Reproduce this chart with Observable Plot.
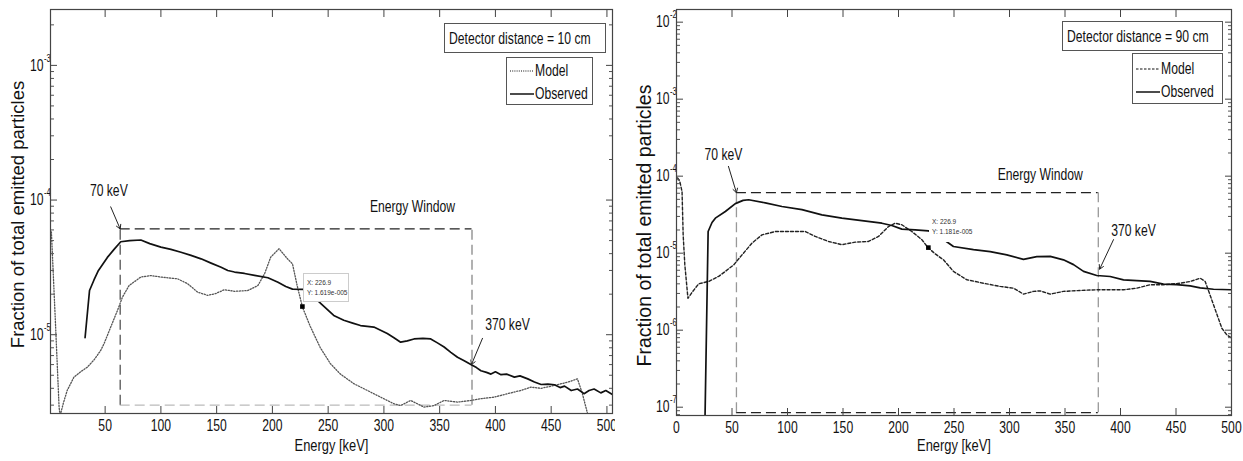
<!DOCTYPE html>
<html><head><meta charset="utf-8">
<script src="https://cdn.jsdelivr.net/npm/d3@7"></script>
<script src="https://cdn.jsdelivr.net/npm/@observablehq/plot@0.6"></script>
<style>
html,body{margin:0;padding:0;background:#fff;}
body{width:1243px;height:461px;overflow:hidden;position:relative;font-family:"Liberation Sans",Arial,sans-serif;color:#111;}
.panel{position:absolute;top:0;}
.box{position:absolute;border:1px solid #555;background:#fff;font-size:16px;box-sizing:border-box;}
.row{position:absolute;white-space:nowrap;transform:translateY(-50%) scaleX(0.76);transform-origin:left center;line-height:1;}
.tip{position:absolute;background:#fff;font-family:"Liberation Sans",sans-serif;font-size:6.5px;line-height:10px;color:#333;box-sizing:border-box;padding-left:3px;white-space:nowrap;}
</style>
</head><body>
<div id="left" class="panel" style="left:0"></div>
<div id="right" class="panel" style="left:615px"></div>
<script>
// ---- tick labels / axes data ----
const energyTicksLeft = [50,100,150,200,250,300,350,400,450,500];
const energyTicksRight = [0,50,100,150,200,250,300,350,400,450,500];
const decadesLeft = [1e-5,1e-4,1e-3];
const decadesRight = [1e-7,1e-6,1e-5,1e-4,1e-3,1e-2];

// ---- left panel (detector distance = 10 cm) ----
const leftModelEnergy = [1.8,5.3,8.7,9.6,12.5,16,22,28,34,40,46,49,55,61,65.5,71.5,82,91,100,115,124,133,142,149,157,166,178,187,193,198.5,206,213.5,218,222.5,227,234,243,252,261,273,285,297,309,315,324,330,336,345,354,366,378,387,399,411,423,432,441,453,465,473.6,478,482.6,484.5];
const leftModelValue  = [5.8e-5,1.3e-5,2.9e-6,2.5e-6,3.1e-6,3.86e-6,4.84e-6,5.3e-6,5.74e-6,6.5e-6,7.64e-6,8.57e-6,1.14e-5,1.51e-5,1.9e-5,2.32e-5,2.68e-5,2.75e-5,2.68e-5,2.6e-5,2.39e-5,2.07e-5,1.96e-5,2.02e-5,2.16e-5,2.1e-5,2.13e-5,2.32e-5,2.84e-5,3.77e-5,4.35e-5,3.66e-5,3.36e-5,2.26e-5,1.6e-5,1.15e-5,8.0e-6,6.1e-6,5.1e-6,4.33e-6,3.86e-6,3.44e-6,3.07e-6,2.98e-6,3.25e-6,3.07e-6,2.9e-6,2.98e-6,3.25e-6,3.16e-6,3.25e-6,3.35e-6,3.44e-6,3.65e-6,3.86e-6,4.08e-6,4.0e-6,4.2e-6,4.45e-6,4.7e-6,3.65e-6,2.6e-6,2.3e-6];
const leftObservedEnergy = [32,36,40,44,52,58,64,72,82,90,100,109,118,127,136,145,154,160,166,175,184,196,205,212,218,228,236,243.5,255,264,272,279,291,297,303,309,315,321,327,335,342,348,354,360,366,372,378,383,387,392,396,400,405,410,417,422,429,435,441,447,453,458,462,468,473.6,479.5,484,488.5,494.5,499,505];
const leftObservedValue  = [9.5e-6,2.13e-5,2.55e-5,3.0e-5,3.75e-5,4.3e-5,4.9e-5,5.0e-5,5.05e-5,4.75e-5,4.47e-5,4.3e-5,4.1e-5,3.88e-5,3.66e-5,3.4e-5,3.17e-5,3.0e-5,2.92e-5,2.85e-5,2.76e-5,2.65e-5,2.45e-5,2.28e-5,2.18e-5,2.17e-5,1.95e-5,1.7e-5,1.39e-5,1.28e-5,1.22e-5,1.17e-5,1.14e-5,1.08e-5,1.02e-5,9.5e-6,8.8e-6,9.0e-6,9.3e-6,9.4e-6,9.3e-6,8.7e-6,8.1e-6,7.4e-6,6.8e-6,6.4e-6,6.0e-6,5.7e-6,5.4e-6,5.25e-6,5.1e-6,5.3e-6,5.05e-6,5.1e-6,4.84e-6,4.95e-6,4.7e-6,4.45e-6,4.27e-6,4.3e-6,4.25e-6,4.05e-6,4.15e-6,3.85e-6,3.95e-6,3.65e-6,3.85e-6,3.95e-6,3.7e-6,3.85e-6,3.6e-6];
const leftWindowEnergy = [63.5, 379];
const leftWindowLevel = [3.0e-6, 6.1e-5];
const leftTip = [226.9, 1.619e-5];

// ---- right panel (detector distance = 90 cm) ----
const rightModelEnergy = [1,3,5,6,7.5,10.3,14,20,29,38,44,51.6,59,68,77,89,101,116,125,137,149,161,173,182,191,197,203,212,221,226.4,233,240.5,249.5,261.5,276.6,291.6,303.6,312.6,321.6,327.6,336.6,348.6,363.7,378.7,390.7,402.7,414.7,426.7,438.7,453.8,462.8,471.8,476.3,483.8,491.3,495.8,500];
const rightModelValue  = [9.5e-5,8.5e-5,6.3e-5,1.73e-5,7.1e-6,2.6e-6,3.1e-6,4.0e-6,4.3e-6,5.0e-6,5.8e-6,7.06e-6,9.5e-6,1.35e-5,1.73e-5,1.91e-5,1.91e-5,1.91e-5,1.65e-5,1.42e-5,1.29e-5,1.39e-5,1.42e-5,1.65e-5,2.22e-5,2.45e-5,2.34e-5,1.91e-5,1.5e-5,1.19e-5,9.8e-6,8.2e-6,5.8e-6,4.52e-6,4.07e-6,3.7e-6,3.51e-6,2.94e-6,3.19e-6,3.24e-6,2.94e-6,3.19e-6,3.28e-6,3.35e-6,3.35e-6,3.35e-6,3.51e-6,3.89e-6,3.89e-6,4.07e-6,4.29e-6,4.73e-6,4.29e-6,2.14e-6,1.06e-6,8.7e-7,7.9e-7];
const rightObservedEnergy = [25.5,28.5,32,35,44,53,60,65,80,95,113,131,149,167,185,194,203,215,227,233,249.5,267.6,282.6,297.6,312.6,324.6,336.7,348.6,357.7,366.7,378.6,390.7,402.7,414.7,426.7,438.7,450.7,462.8,471.8,483.8,500];
const rightObservedValue  = [5e-8,1.91e-5,2.5e-5,2.85e-5,3.48e-5,4.4e-5,4.85e-5,4.94e-5,4.5e-5,4.04e-5,3.67e-5,3.15e-5,2.85e-5,2.64e-5,2.45e-5,2.29e-5,2.05e-5,2.01e-5,1.95e-5,1.8e-5,1.22e-5,1.11e-5,1.05e-5,9.5e-6,8.3e-6,9.0e-6,9.1e-6,8.2e-6,7.1e-6,5.8e-6,5.13e-6,4.98e-6,4.5e-6,4.4e-6,4.3e-6,3.96e-6,3.9e-6,3.77e-6,3.55e-6,3.4e-6,3.35e-6];
const rightWindowEnergy = [54, 380];
const rightWindowLevel = [8.5e-8, 6.1e-5];
const rightTip = [226.9, 1.181e-5];

const FONT = '"Liberation Sans",Arial,sans-serif';
const SQUEEZE = 0.76;
const zip = (e, v) => e.map((x, i) => ({e: x, v: v[i]}));

function minorTicks(decades, domain) {
  const out = [];
  for (const d of [decades[0] / 10, ...decades])
    for (let k = 2; k <= 9; k++) { const t = k * d; if (t > domain[0] && t < domain[1]) out.push(t); }
  return out;
}

function panel(cfg) {
  const win = cfg.winE, lev = cfg.winV;
  const dash = "10,5";
  const marks = [
    Plot.ruleY([lev[1]], {x1: win[0], x2: win[1], stroke: "#222", strokeWidth: 1.3, strokeDasharray: dash}),
    Plot.ruleY([lev[0]], {x1: win[0], x2: win[1], stroke: cfg.bottomColor, strokeWidth: 1.3, strokeDasharray: dash}),
    Plot.ruleX([win[0]], {y1: lev[0], y2: lev[1], stroke: cfg.leftColor, strokeWidth: 1.3, strokeDasharray: dash}),
    Plot.ruleX([win[1]], {y1: lev[0], y2: lev[1], stroke: cfg.rightColor, strokeWidth: 1.3, strokeDasharray: dash}),
    Plot.line(cfg.model, {x: "e", y: "v", stroke: cfg.modelColor, strokeWidth: cfg.modelWidth, strokeDasharray: cfg.modelDash, clip: true}),
    Plot.line(cfg.observed, {x: "e", y: "v", stroke: "#111", strokeWidth: 1.7, clip: true}),
    Plot.dot([cfg.tip], {x: d => d[0], y: d => d[1], symbol: "square", r: 2.6, fill: "#000"}),
    Plot.axisX(cfg.xTicks, {anchor: "bottom", tickSize: -7, tickPadding: 13, fontSize: 16, label: null, stroke: "#444", fill: "#111"}),
    Plot.axisX(cfg.xTicks, {anchor: "top", tickSize: -7, tickFormat: () => "", label: null, stroke: "#444"}),
    Plot.axisY(cfg.decades, {anchor: "left", tickSize: -7, tickPadding: 14, fontSize: 16, label: null, stroke: "#444", fill: "#111",
      tickFormat: () => "10"}),
    Plot.text(cfg.decades, {y: d => d, frameAnchor: "left", dx: -6.5, dy: -7, textAnchor: "start", fontSize: 10, fill: "#111",
      text: d => String(Math.round(Math.log10(d)))}),
    Plot.axisY(cfg.decades, {anchor: "right", tickSize: -7, tickFormat: () => "", label: null, stroke: "#444"}),
    Plot.axisY(cfg.minor, {anchor: "left", tickSize: -4, tickFormat: () => "", label: null, stroke: "#555"}),
    Plot.axisY(cfg.minor, {anchor: "right", tickSize: -4, tickFormat: () => "", label: null, stroke: "#555"}),
    Plot.frame({stroke: "#444", strokeWidth: 1.2}),
    Plot.arrow([0], {x1: cfg.a70[0], y1: cfg.a70[1], x2: win[0], y2: lev[1], stroke: "#222", strokeWidth: 1, headLength: 7}),
    Plot.arrow([0], {x1: cfg.a370[0], y1: cfg.a370[1], x2: cfg.a370[2], y2: cfg.a370[3], stroke: "#222", strokeWidth: 1, headLength: 7}),
    Plot.text(["70 keV"], {x: cfg.t70[0], y: cfg.t70[1], fontSize: 16, fill: "#111"}),
    Plot.text(["370 keV"], {x: cfg.t370[0], y: cfg.t370[1], fontSize: 16, fill: "#111"}),
    Plot.text(["Energy Window"], {x: cfg.tEW[0], y: cfg.tEW[1], fontSize: 16, fill: "#111"}),
    Plot.text(["Energy [keV]"], {frameAnchor: "bottom", lineAnchor: "middle", dy: cfg.xLabelDy, fontSize: 17, fill: "#111"}),
    Plot.text(["Fraction of total emitted particles"], {frameAnchor: "left", textAnchor: "middle", lineAnchor: "middle", rotate: -90, dx: -32, dy: cfg.yLabelDy, fontSize: cfg.yLabelSize, fill: "#111"})
  ];
  return Plot.plot({
    width: cfg.width, height: 461,
    marginLeft: cfg.ml, marginRight: cfg.mr, marginTop: 9, marginBottom: cfg.mb,
    style: {fontFamily: FONT, fontSize: "16px", color: "#111", background: "white", overflow: "visible"},
    x: {domain: cfg.xDomain, label: null},
    y: {type: "log", domain: cfg.yDomain, label: null},
    marks
  });
}

// horizontally condense every text (except the rotated axis title) about its own anchor
function squeeze(svg) {
  svg.querySelectorAll("text").forEach(t => {
    const s = t.textContent;
    if (!s || s.startsWith("Fraction")) return;
    const x = parseFloat(t.getAttribute("x") || "0") || 0;
    const tr = t.getAttribute("transform") || "";
    t.setAttribute("transform", `${tr} translate(${x},0) scale(${SQUEEZE},1) translate(${-x},0)`);
  });
}

const leftDomainY = [2.6e-6, 2.6e-3];
const rightDomainY = [7.8e-8, 1.46e-2];

const leftSvg = panel({
  width: 615, ml: 50, mr: 3, mb: 48, xDomain: [1, 505], yDomain: leftDomainY,
  xTicks: energyTicksLeft, decades: decadesLeft, minor: minorTicks(decadesLeft, leftDomainY),
  model: zip(leftModelEnergy, leftModelValue), observed: zip(leftObservedEnergy, leftObservedValue),
  modelColor: "#555", modelWidth: 1.3, modelDash: "1.2,1.6",
  winE: leftWindowEnergy, winV: leftWindowLevel,
  leftColor: "#555", rightColor: "#888", bottomColor: "#bbb",
  tip: leftTip,
  a70: [55, 8.9e-5], t70: [53.3, 1.17e-4],
  a370: [388.4, 9.4e-6, 378.5, 6.0e-6], t370: [410.8, 1.19e-5],
  tEW: [325.6, 8.9e-5],
  xLabelDy: 32, yLabelDy: 3, yLabelSize: 18.5
});
document.getElementById("left").append(leftSvg);
squeeze(leftSvg);

const rightSvg = panel({
  width: 628, ml: 61, mr: 12, mb: 46, xDomain: [0, 500], yDomain: rightDomainY,
  xTicks: energyTicksRight, decades: decadesRight, minor: minorTicks(decadesRight, rightDomainY),
  model: zip(rightModelEnergy, rightModelValue), observed: zip(rightObservedEnergy, rightObservedValue),
  modelColor: "#222", modelWidth: 1.4, modelDash: "3,2",
  winE: rightWindowEnergy, winV: rightWindowLevel,
  leftColor: "#999", rightColor: "#999", bottomColor: "#222",
  tip: rightTip,
  a70: [46.8, 1.34e-4], t70: [42.3, 1.91e-4],
  a370: [393.7, 1.5e-5, 381.2, 6.2e-6], t370: [411.7, 1.97e-5],
  tEW: [327.7, 1.05e-4],
  xLabelDy: 30, yLabelDy: 13, yLabelSize: 19.5
});
document.getElementById("right").append(rightSvg);
squeeze(rightSvg);

// ---- legends and data tips (overlays) ----
function overlay(html) { const d = document.createElement("div"); d.innerHTML = html; document.body.append(d.firstElementChild); }
const sample = (dash, w) => `<svg width="26" height="4" style="position:absolute;left:3px;top:-2px"><line x1="0" y1="2" x2="24" y2="2" stroke="#111" stroke-width="${w}" ${dash ? `stroke-dasharray="${dash}"` : ""}/></svg>`;

overlay(`<div class="box" style="left:444px;top:23px;width:162px;height:30px"><span class="row" style="left:4px;top:15px">Detector distance = 10 cm</span></div>`);
overlay(`<div class="box" style="left:506px;top:57px;width:87px;height:48px">
  <div style="position:absolute;left:0;top:13px">${sample("1,1.2", 1.2)}</div><span class="row" style="left:28px;top:13px">Model</span>
  <div style="position:absolute;left:0;top:36px">${sample(null, 1.5)}</div><span class="row" style="left:28px;top:36px">Observed</span></div>`);
overlay(`<div class="box" style="left:1062px;top:21px;width:161px;height:30px"><span class="row" style="left:4px;top:15px">Detector distance = 90 cm</span></div>`);
overlay(`<div class="box" style="left:1132px;top:53px;width:91px;height:51px">
  <div style="position:absolute;left:0;top:15px">${sample("2.5,1.5", 1.2)}</div><span class="row" style="left:28px;top:15px">Model</span>
  <div style="position:absolute;left:0;top:38px">${sample(null, 1.5)}</div><span class="row" style="left:28px;top:38px">Observed</span></div>`);
overlay(`<div class="tip" style="left:303px;top:273px;width:46px;height:29px;border:1px solid #ccc;padding-top:4px">X: ${leftTip[0]}<br>Y: 1.619e-005</div>`);
overlay(`<div class="tip" style="left:929px;top:215px;width:42px;height:27px;padding-top:2px">X: ${rightTip[0]}<br>Y: 1.181e-005</div>`);
</script>
</body></html>
